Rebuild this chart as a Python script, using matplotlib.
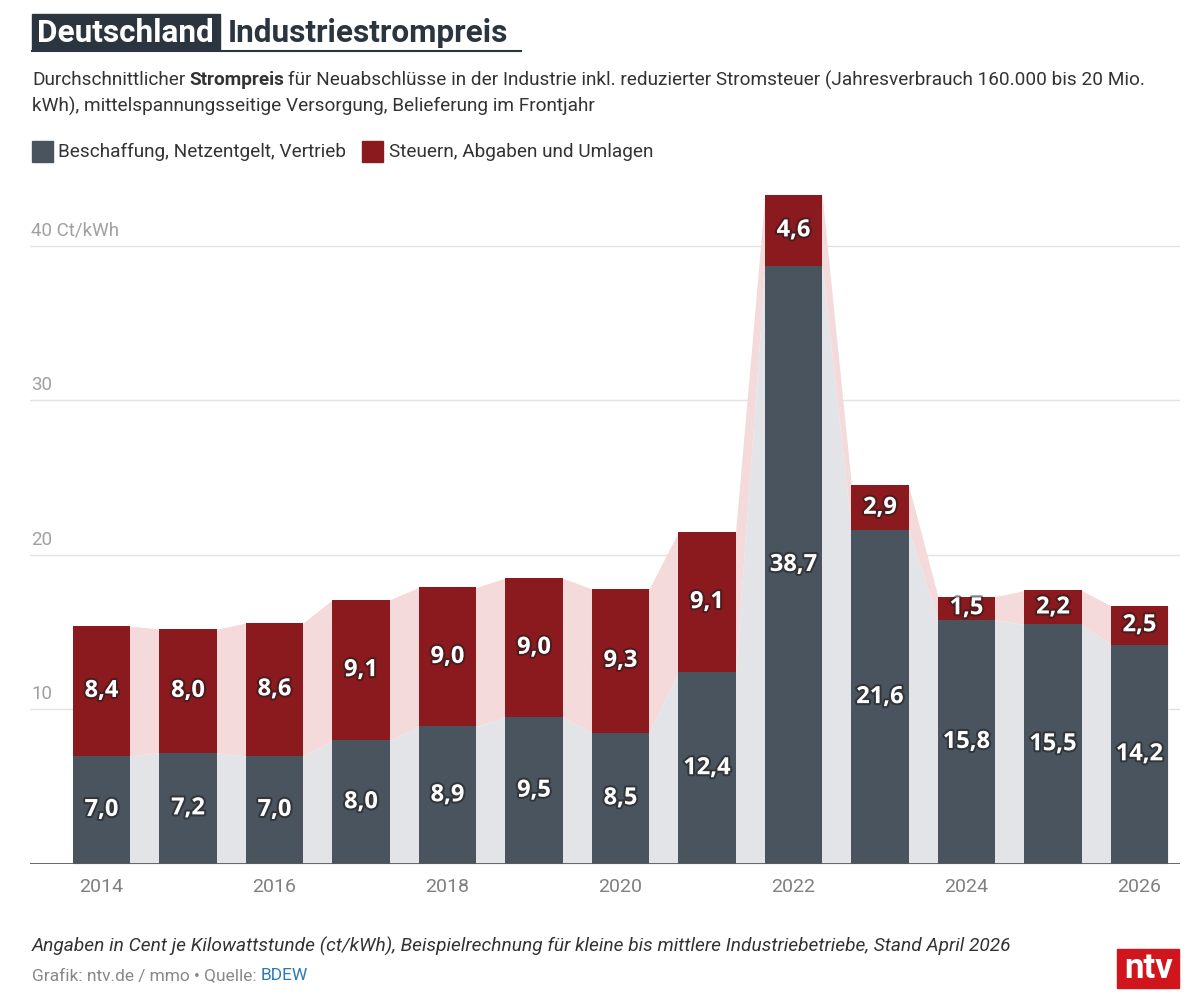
import matplotlib
matplotlib.use("Agg")
import matplotlib.pyplot as plt
import matplotlib.patheffects as pe
from matplotlib.patches import Rectangle
import numpy as np

plt.rcParams['font.family'] = ['Roboto', 'DejaVu Sans']

years = [2014, 2015, 2016, 2017, 2018, 2019, 2020, 2021, 2022, 2023, 2024, 2025, 2026]
beschaffung = [7.0, 7.2, 7.0, 8.0, 8.9, 9.5, 8.5, 12.4, 38.7, 21.6, 15.8, 15.5, 14.2]
steuern = [8.4, 8.0, 8.6, 9.1, 9.0, 9.0, 9.3, 9.1, 4.6, 2.9, 1.5, 2.2, 2.5]
xtick_years = [2014, 2016, 2018, 2020, 2022, 2024, 2026]
ytick_vals = [10, 20, 30, 40]
ytick_labels = ["10", "20", "30", "40 Ct/kWh"]

GRAY = "#4a545e"
RED = "#8a1a1e"
DARK = "#2b3540"
TXT = "#333333"

W, H = 1200, 1006
fig = plt.figure(figsize=(12, 10.06), dpi=100)
fig.patch.set_facecolor("white")


def fx(px):
    return px / W


def fy(py):
    return 1 - py / H


ax = fig.add_axes([fx(30), fy(864), fx(1180) - fx(30), fy(184) - fy(864)])
x = np.array(years, dtype=float)
b = np.array(beschaffung)
s = np.array(steuern)
tot = b + s
w = 0.66

# connecting bands between bars
xs = np.ravel(np.column_stack([x - w / 2, x + w / 2]))
bs = np.repeat(b, 2)
ts = np.repeat(tot, 2)
ax.fill_between(xs, 0, bs, color="#e3e4e7", lw=0, zorder=1)
ax.fill_between(xs, bs, ts, color="#f4dada", lw=0, zorder=1)

ax.bar(x, b, width=w, color=GRAY, zorder=3)
ax.bar(x, s, bottom=b, width=w, color=RED, zorder=3)

fx_eff = [pe.withStroke(linewidth=3, foreground="#1e1e1e", alpha=0.55)]
for xi, bi, si in zip(x, b, s):
    ax.text(xi, bi / 2, f"{bi:.1f}".replace(".", ","), ha="center", va="center",
            color="white", fontsize=17, fontweight="bold", family="Open Sans",
            zorder=5, path_effects=fx_eff)
    ax.text(xi, bi + si / 2, f"{si:.1f}".replace(".", ","), ha="center", va="center",
            color="white", fontsize=17, fontweight="bold", family="Open Sans",
            zorder=5, path_effects=fx_eff)

ax.set_xlim(2014 - 0.827, 2026 + 0.468)
ax.set_ylim(0, 44)
for v, lab in zip(ytick_vals, ytick_labels):
    ax.axhline(v, color="#e2e2e2", lw=1, zorder=0)
    ax.text(2014 - 0.81, v + 0.4, lab, ha="left", va="bottom", color="#a0a0a0", fontsize=13.5)
ax.axhline(0, color="#5a5a5a", lw=2, zorder=4)
ax.set_yticks([])
ax.set_xticks(xtick_years)
ax.set_xticklabels([str(y) for y in xtick_years], color="#808080", fontsize=14)
ax.tick_params(axis="x", length=0, pad=10)
for sp in ax.spines.values():
    sp.set_visible(False)

# title
fig.patches.append(Rectangle((fx(32), fy(50)), fx(220) - fx(32), fy(14) - fy(50),
                             transform=fig.transFigure, color=DARK, zorder=1))
fig.text(fx(37), fy(33), "Deutschland", color="white", fontsize=22.7, fontweight="bold",
         va="center", ha="left")
fig.text(fx(228), fy(33), "Industriestrompreis", color=DARK, fontsize=22.7, fontweight="bold",
         va="center", ha="left")
fig.add_artist(plt.Line2D([fx(32), fx(521)], [fy(51), fy(51)], color=DARK, lw=1.5,
                          transform=fig.transFigure))

renderer = fig.canvas.get_renderer()


def run(parts, px, py, size, **kw):
    for txt, props in parts:
        t = fig.text(fx(px), fy(py), txt, fontsize=size, va="center", ha="left", **props, **kw)
        bb = t.get_window_extent(renderer)
        px = bb.x1 + size * 0.3
    return px


sub_size = 13.7
run([("Durchschnittlicher", {"color": TXT}),
     ("Strompreis", {"color": TXT, "fontweight": "bold"}),
     ("für Neuabschlüsse in der Industrie inkl. reduzierter Stromsteuer (Jahresverbrauch 160.000 bis 20 Mio.",
      {"color": TXT})], 32, 80, sub_size)
fig.text(fx(32), fy(106), "kWh), mittelspannungsseitige Versorgung, Belieferung im Frontjahr",
         fontsize=sub_size, color=TXT, va="center", ha="left")

# legend
fig.patches.append(Rectangle((fx(32), fy(162)), fx(21), fx(21) * W / H,
                             transform=fig.transFigure, color=GRAY))
fig.text(fx(58), fy(152), "Beschaffung, Netzentgelt, Vertrieb", fontsize=sub_size, color=TXT,
         va="center", ha="left")
fig.patches.append(Rectangle((fx(362), fy(162)), fx(21), fx(21) * W / H,
                             transform=fig.transFigure, color=RED))
fig.text(fx(389), fy(152), "Steuern, Abgaben und Umlagen", fontsize=sub_size, color=TXT,
         va="center", ha="left")

# footer
fig.text(fx(32), fy(946), "Angaben in Cent je Kilowattstunde (ct/kWh), Beispielrechnung für kleine bis mittlere Industriebetriebe, Stand April 2026",
         fontsize=13.8, style="italic", color=TXT, va="center", ha="left")
run([("Grafik: ntv.de / mmo • Quelle:", {"color": "#888888"}),
     ("BDEW", {"color": "#2a7ab8"})], 32, 976, 12.5)

# logo
fig.patches.append(Rectangle((fx(1117), fy(988)), fx(62), fy(949) - fy(988),
                             transform=fig.transFigure, color="#d0161c"))
fig.text(fx(1149), fy(968), "ntv", color="white", fontsize=25, fontweight="bold",
         va="center", ha="center")

fig.savefig("out.png", dpi=100)
